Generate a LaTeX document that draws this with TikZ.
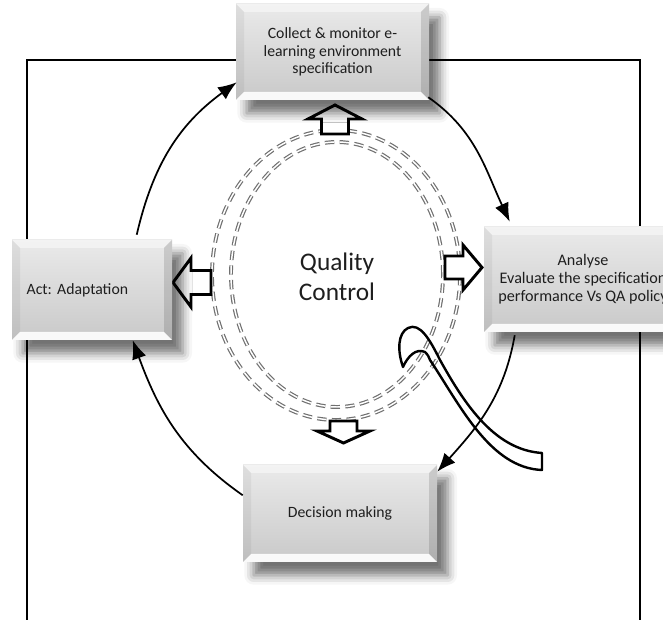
\documentclass[tikz,border=0pt]{standalone}
\usepackage{fontspec}
\setmainfont{Carlito}
\usetikzlibrary{arrows.meta,calc,shadows.blur}

\definecolor{boxtop}{HTML}{EAEAEA}
\definecolor{boxbot}{HTML}{C9C9C9}
\definecolor{ink}{HTML}{1E1E1E}
\definecolor{dashgray}{HTML}{707070}

\tikzset{
  bevelbox/.style={rectangle, inner sep=0pt, align=center, text=ink,
    font=\fontsize{11.8}{13.2}\selectfont,
    top color=boxtop, bottom color=boxbot,
    blur shadow={shadow xshift=8pt, shadow yshift=-10pt,
      shadow blur radius=7pt, shadow opacity=55},
    path picture={
      \coordinate (tl) at (path picture bounding box.north west);
      \coordinate (tr) at (path picture bounding box.north east);
      \coordinate (bl) at (path picture bounding box.south west);
      \coordinate (br) at (path picture bounding box.south east);
      % bevelled rim of the button
      \fill[white, opacity=.45] (tl) -- (tr) -- ($(tr)+(-8,-8)$) -- ($(tl)+(8,-8)$) -- cycle;
      \fill[white, opacity=.9] (bl) -- (br) -- ($(br)+(-8,8)$) -- ($(bl)+(8,8)$) -- cycle;
      \fill[black, opacity=.05] (tl) -- (bl) -- ($(bl)+(8,8)$) -- ($(tl)+(8,-8)$) -- cycle;
      \fill[black, opacity=.13] (tr) -- (br) -- ($(br)+(-8,8)$) -- ($(tr)+(-8,-8)$) -- cycle;
    }},
  cycarrow/.style={line width=1.3pt, -{Latex[length=14pt,width=11pt]}},
  frameline/.style={line width=1.9pt},
  hollow/.style={draw=black, fill=white, line width=2.2pt, line join=miter},
  ring/.style={draw=dashgray, double=white, double distance=1.1pt,
    line width=0.9pt, dash pattern=on 7pt off 4pt},
  band/.style={draw=black, line width=1.8pt, line join=round},
  pics/hollowarrow/.style n args={4}{code={
    \draw[hollow] (0,-#4) -- ({#1-#2},-#4) -- ({#1-#2},-#3) -- (#1,0)
      -- ({#1-#2},#3) -- ({#1-#2},#4) -- (0,#4) -- cycle;}}
}

\begin{document}
\frenchspacing
\begin{tikzpicture}[x=0.75pt,y=0.75pt]
\useasboundingbox (0,0) rectangle (663,620);
\clip (0,0) rectangle (663,620);

% open frame around the cycle
\draw[frameline] (27,0) -- (27,560) -- (640,560) -- (640,0);

% double dashed rings
\draw[ring] (336,345) ellipse [x radius=124, y radius=145];
\draw[ring] (337,345.5) ellipse [x radius=106, y radius=132.5];

% curved hollow band
\draw[band] (542,167) .. controls (495,170) and (465,215) .. (440,260)
  .. controls (430,280) and (420,298) .. (408,292)
  .. controls (398,287) and (397,270) .. (403,253)
  .. controls (408,264) and (416,272) .. (425,268)
  .. controls (428,265) and (429,263) .. (430,260)
  .. controls (460,215) and (490,152) .. (542,150) -- cycle;

% hollow block arrows leaving the centre
\pic[rotate=90] at (335,486) {hollowarrow={29}{14}{27}{13.5}};
\pic[rotate=-90] at (343.5,199) {hollowarrow={22}{12}{26.5}{13.5}};
\pic[rotate=180] at (211,337.5) {hollowarrow={38}{18}{24.5}{12}};
\pic at (445,352.5) {hollowarrow={37}{19}{22.5}{11.5}};

% stages
\node[bevelbox, minimum width=144.75pt, minimum height=72pt] (collect) at (332.5,568)
  {Collect \& monitor e-\\learning environment\\specification};
\node[bevelbox, minimum width=148.5pt, minimum height=78.75pt,
  font=\fontsize{12.1}{13.4}\selectfont] (analyse) at (583,340.5)
  {Analyse\\Evaluate the specification\\performance Vs QA policy};
\node[bevelbox, minimum width=145.5pt, minimum height=72.75pt] (decide) at (340,106.5)
  {Decision making};
\node[bevelbox, minimum width=120pt, minimum height=75pt, text width=98pt,
  inner xsep=11pt, align=left] (act) at (92,330) {Act:\ Adaptation};

% cycle connectors
\draw[cycarrow] ($(act.north west)+(125,5)$) to[out=77,in=216] ($(collect.south west)+(1,18)$);
\draw[cycarrow] ($(collect.south east)+(-1,3)$) to[out=-35,in=115] ($(analyse.north west)+(26,5)$);
\draw[cycarrow] ($(analyse.south west)+(31,-3)$) to[out=-100,in=48] ($(decide.north east)+(0,-7)$);
\draw[cycarrow] ($(decide.south west)+(0,67)$) to[out=145,in=-70] ($(act.south west)+(121,0)$);

% centre label
\node[font=\fontsize{19}{22.5}\selectfont, text=ink, align=center] (qc) at (337,343)
  {Quality\\Control};
\end{tikzpicture}
\end{document}
